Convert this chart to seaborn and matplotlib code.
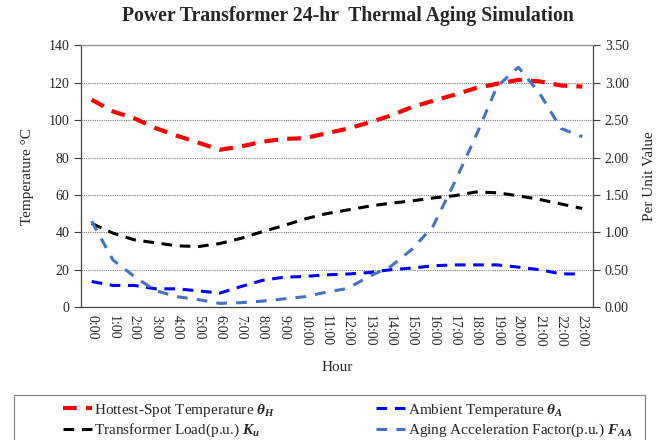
import matplotlib
matplotlib.use("Agg")
import matplotlib.pyplot as plt
import seaborn as sns
import numpy as np
import pandas as pd
from matplotlib.patches import Rectangle

hours = [f"{h}:00" for h in range(24)]
hot_spot = [111, 104.7, 101, 95.8, 91.7, 88, 84.2, 86, 88.5, 90, 90.4, 93,
            95.5, 98.8, 102.4, 107, 110.4, 113.6, 117.2, 119.5, 121.6, 120.8, 118.6, 118]
ambient = [13.7, 11.6, 11.6, 9.8, 9.8, 8.7, 7.5, 11, 14.3, 16, 16.4, 17.3,
           17.7, 18.5, 20, 20.9, 22.1, 22.6, 22.6, 22.6, 21.4, 20, 17.8, 17.7]
load_pu = [1.12, 0.99, 0.90, 0.86, 0.82, 0.81, 0.85, 0.92, 1.01, 1.09, 1.18, 1.25,
           1.30, 1.35, 1.39, 1.42, 1.46, 1.49, 1.54, 1.53, 1.49, 1.44, 1.38, 1.32]
faa_pu = [1.15, 0.63, 0.41, 0.22, 0.14, 0.10, 0.05, 0.06, 0.08, 0.11, 0.14, 0.20,
          0.25, 0.41, 0.54, 0.77, 1.08, 1.66, 2.28, 2.95, 3.21, 2.86, 2.39, 2.28]

sns.set_theme(style="white")
plt.rcParams["font.family"] = ["Liberation Serif", "DejaVu Serif"]
plt.rcParams["mathtext.fontset"] = "custom"
plt.rcParams["mathtext.it"] = "Liberation Serif:italic:bold"
plt.rcParams["mathtext.rm"] = "Liberation Serif:bold"
plt.rcParams["mathtext.bf"] = "Liberation Serif:italic:bold"

df = pd.DataFrame({"x": np.arange(24), "hot": hot_spot, "amb": ambient,
                   "load": load_pu, "faa": faa_pu})

fig = plt.figure(figsize=(6.67, 4.4), dpi=100)
ax = fig.add_axes([0.1214, 0.302, 0.7676, 0.5946])
ax2 = ax.twinx()

sns.lineplot(data=df, x="x", y="hot", ax=ax, color="#FF0000", linewidth=3,
             label="Hottest-Spot Temperature $\\theta_H$", legend=False)
sns.lineplot(data=df, x="x", y="amb", ax=ax, color="#0000FF", linewidth=2.2,
             label="Ambient Temperature $\\theta_A$", legend=False)
sns.lineplot(data=df, x="x", y="load", ax=ax2, color="#000000", linewidth=2.2,
             label="Transformer Load(p.u.) $K_u$", legend=False)
sns.lineplot(data=df, x="x", y="faa", ax=ax2, color="#4472C4", linewidth=2.2,
             label="Aging Acceleration Factor(p.u.) $F_{AA}$", legend=False)

ax.lines[0].set_dashes([3.3, 2.2])
ax.lines[1].set_dashes([3.5, 2.5])
ax2.lines[0].set_dashes([3.5, 2.5])
ax2.lines[1].set_dashes([3.5, 3])

ax.set_xlim(-0.5, 23.5)
ax.set_ylim(0, 140)
ax2.set_ylim(0, 3.5)
ax.set_yticks(np.arange(0, 141, 20))
ax2.set_yticks(np.arange(0, 3.51, 0.5))
ax2.set_yticklabels([f"{v:.2f}" for v in np.arange(0, 3.51, 0.5)])
ax.set_xticks(np.arange(24))
ax.set_xticklabels(hours, rotation=-90)
ax.set_xticks(np.arange(-0.5, 24, 1), minor=True)
ax.tick_params(axis="x", which="major", length=0, pad=6, labelsize=10)
ax.tick_params(axis="x", which="minor", length=5, width=0.8, color="#404040", direction="inout")
ax.tick_params(axis="y", length=5, width=0.8, color="#404040", labelsize=10, direction="out", left=True)
ax2.tick_params(axis="y", length=5, width=0.8, color="#404040", labelsize=10, direction="out", right=True)

ax.grid(axis="y", color="#808080", linestyle=(0, (1, 1)), linewidth=0.8)
ax.set_axisbelow(True)
for a in (ax, ax2):
    a.spines["left"].set_color("#404040")
    a.spines["right"].set_color("#404040")
    a.spines["bottom"].set_color("#404040")
    a.spines["top"].set_color("#909090")
    for s in a.spines.values():
        s.set_linewidth(0.8)

ax.set_xlabel("Hour", fontsize=11, labelpad=10)
ax.set_ylabel("Temperature \u00b0C", fontsize=11, labelpad=10)
ax2.set_ylabel("Per Unit Value", fontsize=11, labelpad=10)
ax2.set_xlabel("")

fig.text(0.521, 0.963, "Power Transformer 24-hr  Thermal Aging Simulation",
         ha="center", va="center", fontsize=14.2, fontweight="bold")

h1, lab1 = ax.get_legend_handles_labels()
h2, lab2 = ax2.get_legend_handles_labels()
handles = [h1[0], h2[0], h1[1], h2[1]]
labels = [lab1[0], lab2[0], lab1[1], lab2[1]]
fig.add_artist(Rectangle((0.021, -0.01), 0.946, 0.1123, transform=fig.transFigure,
                         fill=False, edgecolor="#808080", linewidth=0.8))
fig.legend(handles, labels, ncol=2, loc="upper left", bbox_to_anchor=(0.074, 0.118),
           frameon=False, fontsize=11, handlelength=1.9, handletextpad=0.15,
           columnspacing=6.6, labelspacing=0.2)

fig.savefig("out.png", dpi=100)
